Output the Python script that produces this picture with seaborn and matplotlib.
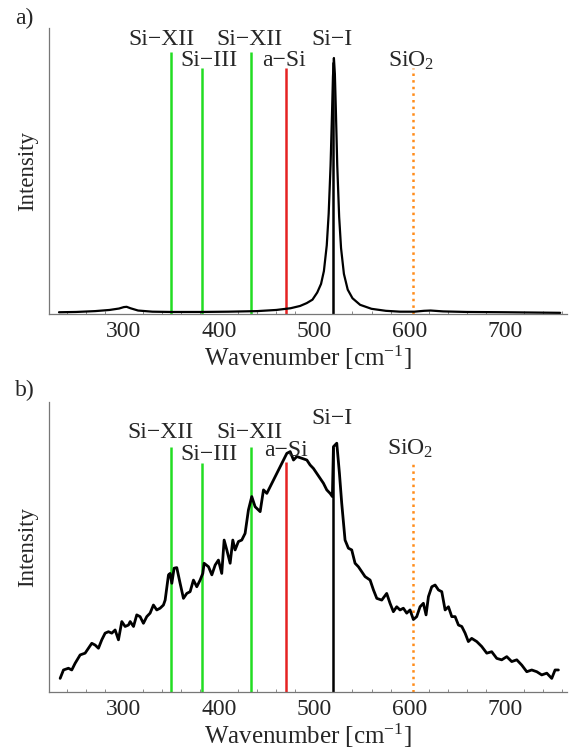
import matplotlib
matplotlib.use("Agg")
import matplotlib.pyplot as plt
import seaborn as sns
import pandas as pd
from matplotlib.ticker import MultipleLocator

# ---------------- data ----------------
# panel a) spectrum (wavenumber, intensity in arbitrary units)
a_wn = [232, 250, 270, 285, 295, 300, 303, 307, 315, 330, 350, 380, 410, 440, 460,
        475, 485, 492, 498, 503, 507, 510, 513, 515, 517, 518.5, 519.5, 520.5, 521.5,
        522.5, 524, 526, 528, 531, 535, 540, 548, 560, 575, 590, 605, 615, 622, 635,
        660, 700, 730, 758]
a_int = [0.6, 0.7, 1.0, 1.4, 1.9, 2.4, 2.5, 2.0, 1.2, 0.8, 0.7, 0.7, 0.8, 1.0, 1.4,
         2.0, 2.8, 3.8, 5.0, 7.5, 10.5, 15, 24, 35, 52, 70, 83, 89.5, 84,
         72, 52, 34, 23, 14, 8.5, 5.5, 3.2, 1.8, 1.1, 0.8, 0.8, 1.1, 1.2, 0.9,
         0.7, 0.6, 0.5, 0.4]

# panel b) spectrum
b_wn = [233.2, 236.7, 241.9, 245.4, 248.9, 254.2, 259.4, 262.9, 266.4, 269.9, 273.4,
        276.9, 280.4, 283.9, 287.4, 290.9, 294.4, 297.9, 301.4, 304.9, 306.7, 310.2,
        313.6, 317.1, 320.6, 324.1, 327.6, 331.1, 334.6, 338.1, 341.6, 343.4, 346.9,
        348.6, 350.4, 352.8, 355.6, 359.1, 362.6, 366.1, 369.6, 373.1, 376.6, 380.1,
        382.9, 384.3, 388.9, 392.4, 395.9, 399.3, 402.8, 405.3, 408.1, 411.6, 414.4,
        416.8, 420.3, 423.8, 427.3, 430.8, 434.3, 437.8, 443.1, 446.6, 450.1, 453.6,
        457.1, 460.6, 464.1, 467.6, 471.1, 474.6, 478.1, 481.6, 486.8, 492.1, 495.5,
        499.0, 502.5, 506.0, 509.5, 513.0, 516.5, 518.9, 520.0, 523.5, 526.3, 528.7,
        532.2, 535.7, 539.2, 542.7, 546.2, 549.7, 553.2, 558.5, 562.0, 565.5, 570.7,
        575.9, 579.4, 582.9, 586.4, 589.9, 593.4, 596.9, 600.4, 603.9, 607.4, 610.9,
        614.4, 617.2, 619.7, 623.2, 626.7, 630.2, 633.7, 637.2, 640.7, 644.2, 647.7,
        651.2, 654.7, 658.2, 661.6, 665.1, 670.4, 675.6, 680.9, 686.1, 691.4, 696.6,
        701.9, 707.1, 712.4, 717.6, 722.9, 728.1, 733.4, 738.6, 743.9, 749.1, 752.6,
        756.1]
b_int = [4.7, 7.6, 8.2, 7.6, 9.9, 12.8, 13.4, 15.1, 16.8, 16.2, 15.1,
         18.0, 20.3, 20.8, 20.3, 21.4, 18.0, 24.3, 22.6, 23.1, 24.3, 22.6,
         26.6, 26.0, 23.7, 26.0, 27.2, 30.0, 28.3, 28.9, 30.0, 31.7, 40.4,
         40.9, 37.5, 42.7, 42.9, 37.5, 32.3, 34.0, 34.6, 38.6, 36.3, 38.6,
         40.9, 44.4, 43.2, 40.4, 43.8, 45.5, 40.9, 52.4, 49.0, 44.4, 52.4,
         49.0, 51.9, 52.4, 54.7, 62.8, 67.4, 63.9, 62.2, 69.7, 68.5, 70.8,
         73.1, 75.4, 77.7, 80.0, 82.3, 82.9, 80.0, 81.2, 80.6, 80.0, 78.3,
         77.1, 75.4, 73.7, 72.0, 69.7, 68.5, 67.4, 84.6, 85.8, 75.4, 65.1,
         52.4, 49.6, 49.0, 44.4, 43.2, 41.5, 39.8, 38.6, 35.2, 32.3, 31.7,
         34.0, 30.6, 27.7, 29.4, 28.3, 28.9, 27.2, 28.3, 25.0, 26.0, 29.4,
         30.6, 26.6, 32.9, 36.3, 36.9, 35.2, 34.6, 28.3, 29.4, 26.0, 26.0,
         23.1, 22.6, 20.3, 17.4, 18.5, 17.4, 15.7, 13.4, 13.9, 11.6, 11.1,
         12.2, 10.5, 11.1, 9.3, 7.0, 7.6, 7.0, 5.9, 6.5, 4.7, 7.6,
         7.6]

# reference line positions and labels
ref_wn = [350, 382, 433, 470, 520, 604]
ref_colors = ["#22dd22", "#22dd22", "#22dd22", "#e52222", "black", "#ff8c1a"]
ref_styles = ["-", "-", "-", "-", "-", ":"]
a_ref_top = [91.6, 86.0, 91.6, 86.0, 88.0, 86.0]
b_ref_top = [84.6, 79.1, 84.6, 79.3, 84.6, 79.3]

lab_text = ["Si\u2212XII", "Si\u2212III", "Si\u2212XII", "a\u2212Si", "Si\u2212I", "SiO$_2$"]
a_lab_x = [340, 389, 432, 468, 519, 602]
a_lab_y = [95.8, 88.6, 95.8, 88.6, 95.8, 88.6]
b_lab_x = [339, 389, 431.5, 470.5, 518.5, 601]
b_lab_y = [89.6, 81.9, 89.6, 83.3, 94.4, 84.0]

xticks_major = [300, 400, 500, 600, 700]

# ---------------- style ----------------
sns.set_style("white")
plt.rcParams["font.family"] = ["Liberation Serif", "DejaVu Serif"]
plt.rcParams["mathtext.fontset"] = "custom"
plt.rcParams["mathtext.rm"] = "Liberation Serif"
plt.rcParams["mathtext.it"] = "Liberation Serif:italic"

fig = plt.figure(figsize=(5.71, 7.54), dpi=100)
ax_a = fig.add_axes([0.0858, 0.5836, 0.907, 0.3793])
ax_b = fig.add_axes([0.0858, 0.0822, 0.907, 0.3846])

FS = 17

def draw(ax, wn, inten, tops, lab_x, lab_y, lw_curve):
    df = pd.DataFrame({"wn": wn, "I": inten})
    for x, top, c, ls in zip(ref_wn, tops, ref_colors, ref_styles):
        ax.vlines(x, 0, top, colors=c, linestyles=ls, linewidth=1.8, zorder=2)
    sns.lineplot(data=df, x="wn", y="I", ax=ax, color="black", linewidth=lw_curve,
                 sort=False, estimator=None, zorder=3)
    for t, x, y in zip(lab_text, lab_x, lab_y):
        ax.text(x, y, t, ha="center", va="center", fontsize=FS, zorder=4)
    ax.set_xlim(221.5, 765)
    ax.set_ylim(0, 100)
    ax.set_xticks(xticks_major)
    ax.xaxis.set_minor_locator(MultipleLocator(20))
    ax.tick_params(axis="x", which="major", direction="in", length=4, width=0.8,
                   color="#777777", labelsize=FS, pad=5)
    ax.tick_params(axis="x", which="minor", direction="in", length=2.5, width=0.6,
                   color="#777777", bottom=True)
    ax.set_yticks([])
    for s in ["top", "right"]:
        ax.spines[s].set_visible(False)
    for s in ["left", "bottom"]:
        ax.spines[s].set_color("#777777")
        ax.spines[s].set_linewidth(0.9)
    ax.set_xlabel("Wavenumber [cm$^{-1}$]", fontsize=FS + 1, labelpad=1)
    ax.set_ylabel("Intensity", fontsize=16.5, labelpad=8)

draw(ax_a, a_wn, a_int, a_ref_top, a_lab_x, a_lab_y, 1.6)
draw(ax_b, b_wn, b_int, b_ref_top, b_lab_x, b_lab_y, 2.0)

fig.text(0.026, 0.976, "a)", fontsize=FS, va="center", ha="left")
fig.text(0.026, 0.482, "b)", fontsize=FS, va="center", ha="left")

fig.savefig("out.png", dpi=100)
